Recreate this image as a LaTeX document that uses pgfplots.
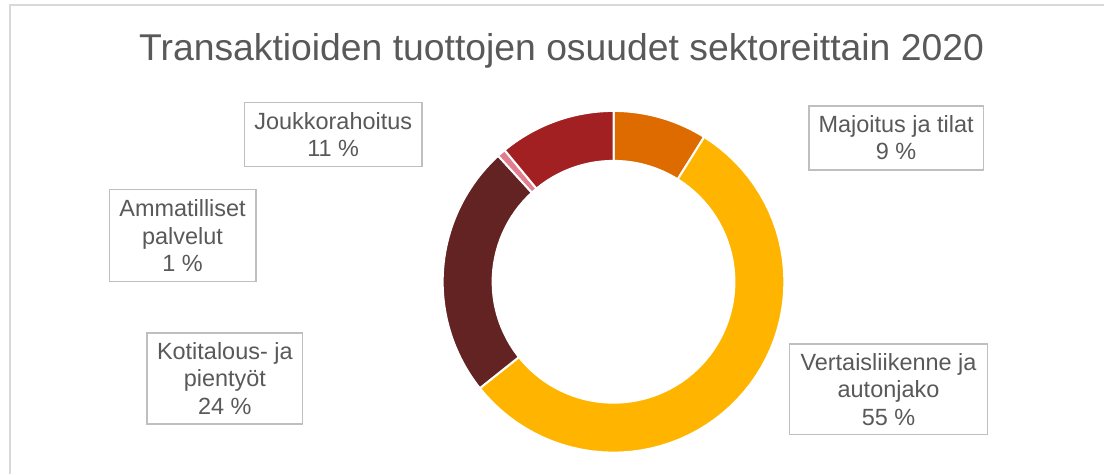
\documentclass[border=0pt]{standalone}
\usepackage{fontspec}
\setmainfont{Liberation Sans}
\usepackage{pgfplots}
\usepackage{pgfplotstable}
\pgfplotsset{compat=1.18}

\definecolor{cMaj}{HTML}{DD6B00}
\definecolor{cVer}{HTML}{FFB500}
\definecolor{cKot}{HTML}{622322}
\definecolor{cAmm}{HTML}{E17D8F}
\definecolor{cJou}{HTML}{A32022}
\definecolor{txt}{HTML}{595959}
\definecolor{boxline}{HTML}{BFBFBF}
\definecolor{frame}{HTML}{D9D9D9}

% osuudet prosentteina, myötäpäivään ylhäältä alkaen
\pgfplotstableread{
sektori osuus
Majoitus 8.9
Vertais 55.4
Kotitalous 23.9
Ammatilliset 0.8
Joukkorahoitus 11.0
}\osuudet

\begin{document}
\begin{tikzpicture}[
    lbl/.style={draw=boxline, line width=1.1pt, text=txt, align=center,
        font=\fontsize{17.6}{20.6}\selectfont, inner sep=0pt},
]
% kulmat (astetta myötäpäivään klo 12:sta)
\pgfmathsetmacro\aA{0}
\pgfplotstablegetelem{0}{osuus}\of\osuudet \pgfmathsetmacro\aB{\aA+3.6*\pgfplotsretval}
\pgfplotstablegetelem{1}{osuus}\of\osuudet \pgfmathsetmacro\aC{\aB+3.6*\pgfplotsretval}
\pgfplotstablegetelem{2}{osuus}\of\osuudet \pgfmathsetmacro\aD{\aC+3.6*\pgfplotsretval}
\pgfplotstablegetelem{3}{osuus}\of\osuudet \pgfmathsetmacro\aE{\aD+3.6*\pgfplotsretval}
\pgfplotstablegetelem{4}{osuus}\of\osuudet \pgfmathsetmacro\aF{\aE+3.6*\pgfplotsretval}
\begin{axis}[
    width=828.75pt, height=355.5pt,
    scale only axis,
    xmin=0, xmax=1105, ymin=0, ymax=474,
    y dir=reverse,
    hide axis,
    clip=false,
    every axis plot/.append style={samples=60, variable=\t, draw=white, line width=1.5pt},
]
\path[fill=white] (0,0) rectangle (1105,474);
\draw[frame, line width=1.3pt] (10,474) -- (10,5) -- (1105,5);

\addplot[fill=cMaj, domain=\aA:\aB] ({614+171*sin(\t)},{282-171*cos(\t)}) -- (614,282) -- cycle;
\addplot[fill=cVer, domain=\aB:\aC] ({614+171*sin(\t)},{282-171*cos(\t)}) -- (614,282) -- cycle;
\addplot[fill=cKot, domain=\aC:\aD] ({614+171*sin(\t)},{282-171*cos(\t)}) -- (614,282) -- cycle;
\addplot[fill=cAmm, domain=\aD:\aE] ({614+171*sin(\t)},{282-171*cos(\t)}) -- (614,282) -- cycle;
\addplot[fill=cJou, domain=\aE:\aF] ({614+171*sin(\t)},{282-171*cos(\t)}) -- (614,282) -- cycle;
\addplot[fill=white, draw=none, domain=0:360, samples=120] ({614+122*sin(\t)},{282-122*cos(\t)}) -- cycle;

\node[anchor=base, text=txt, font=\fontsize{28}{32}\selectfont] at (562,61)
    {Transaktioiden tuottojen osuudet sektoreittain 2020};

\node[lbl, minimum width=133.5pt, minimum height=48pt] at (333.5,134.5)
    {Joukkorahoitus\\11 \%};
\node[lbl, minimum width=110pt, minimum height=69pt] at (182.7,235.8)
    {Ammatilliset\\palvelut\\1 \%};
\node[lbl, minimum width=116.5pt, minimum height=68pt] at (225,378.8)
    {Kotitalous- ja\\pientyöt\\24 \%};
\node[lbl, minimum width=131pt, minimum height=48pt] at (896.8,138)
    {Majoitus ja tilat\\9 \%};
\node[lbl, minimum width=148.5pt, minimum height=68pt] at (889.2,389.5)
    {Vertaisliikenne ja\\autonjako\\55 \%};
\end{axis}
\end{tikzpicture}
\end{document}
